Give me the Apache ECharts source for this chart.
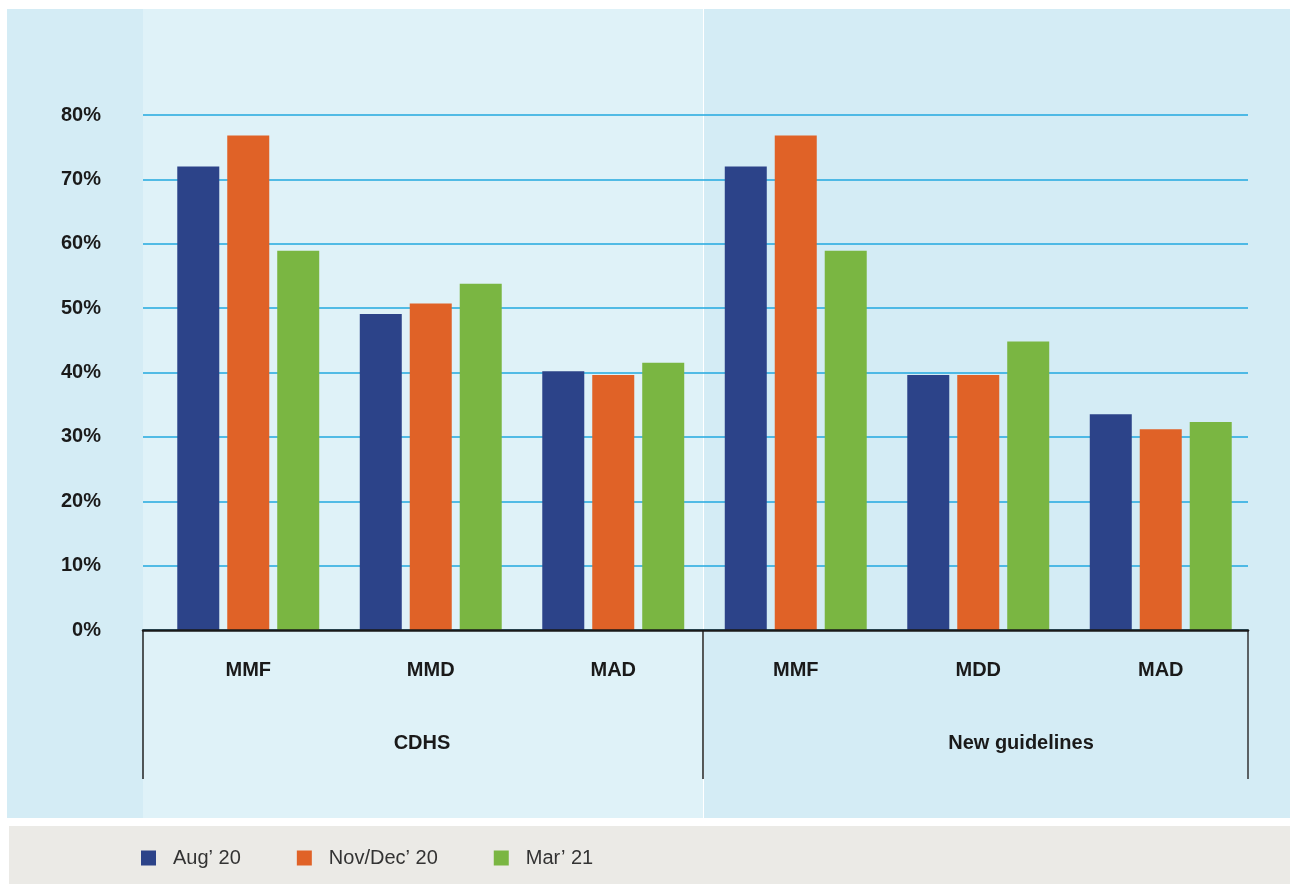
<!DOCTYPE html>
<html>
<head>
<meta charset="utf-8">
<script src="https://cdn.jsdelivr.net/npm/echarts@6/dist/echarts.min.js"></script>
<style>
html,body{margin:0;padding:0;background:#ffffff;}
#chart{width:1290px;height:884px;}
</style>
</head>
<body>
<div id="chart"></div>
<script>
var categories = ['MMF', 'MMD', 'MAD', 'MMF', 'MDD', 'MAD'];
var groupLabels = ['CDHS', 'New guidelines'];
var seriesNames = ['Aug\u2019 20', 'Nov/Dec\u2019 20', 'Mar\u2019 21'];
var aug20 = [72, 49.1, 40.2, 72, 39.6, 33.5];
var novDec20 = [76.8, 50.7, 39.6, 76.8, 39.6, 31.2];
var mar21 = [58.9, 53.8, 41.5, 58.9, 44.8, 32.3];
var yTicks = [0, 10, 20, 30, 40, 50, 60, 70, 80];

var colors = ['#2c4389', '#e06227', '#7ab642'];
var font = '"Liberation Sans", Arial, sans-serif';

var chart = echarts.init(document.getElementById('chart'), null, {renderer: 'canvas'});

function bar(name, data, color) {
  return {
    name: name, type: 'bar', xAxisIndex: 1, yAxisIndex: 1,
    data: data, barWidth: 42, barGap: '19%',
    itemStyle: {color: color}
  };
}

var option = {
  animation: false,
  color: colors,
  graphic: [
    {type: 'rect', z: -10, shape: {x: 7, y: 9, width: 1283, height: 809}, style: {fill: '#d4ecf5'}},
    {type: 'rect', z: -9, shape: {x: 143, y: 9, width: 560, height: 809}, style: {fill: '#dff2f8'}},
    {type: 'rect', z: -9, shape: {x: 703, y: 9, width: 1, height: 809}, style: {fill: '#ffffff'}},
    {type: 'rect', z: -10, shape: {x: 9, y: 826, width: 1281, height: 58}, style: {fill: '#ebeae6'}},
    {type: 'line', z: 5, shape: {x1: 143, y1: 630, x2: 143, y2: 779}, style: {stroke: '#222', lineWidth: 1.5}},
    {type: 'line', z: 5, shape: {x1: 703, y1: 630, x2: 703, y2: 779}, style: {stroke: '#222', lineWidth: 1.5}},
    {type: 'line', z: 5, shape: {x1: 1248, y1: 630, x2: 1248, y2: 779}, style: {stroke: '#333', lineWidth: 1.5}},
    {type: 'text', z: 5, style: {text: groupLabels[0], x: 422, y: 743, textAlign: 'center', textVerticalAlign: 'middle', font: 'bold 20px ' + font, fill: '#1a1a1a'}},
    {type: 'text', z: 5, style: {text: groupLabels[1], x: 1021, y: 743, textAlign: 'center', textVerticalAlign: 'middle', font: 'bold 20px ' + font, fill: '#1a1a1a'}}
  ],
  legend: {
    left: 141, top: 848, padding: 0,
    itemWidth: 15, itemHeight: 15, itemGap: 56,
    icon: 'rect',
    data: seriesNames,
    textStyle: {fontFamily: font, fontSize: 20, color: '#333', padding: [0, 0, 0, 12]}
  },
  grid: [
    {left: 143, top: 115, width: 1105, height: 515},
    {left: 157, top: 115, width: 1095, height: 515}
  ],
  xAxis: [
    {gridIndex: 0, type: 'value', min: 0, max: 1, z: 10,
     axisLine: {show: true, lineStyle: {color: '#1a1a1a', width: 2.5}},
     axisTick: {show: false}, axisLabel: {show: false}, splitLine: {show: false}},
    {gridIndex: 1, type: 'category', data: categories,
     axisLine: {show: false}, axisTick: {show: false},
     axisLabel: {margin: 30, fontFamily: font, fontSize: 20, fontWeight: 'bold', color: '#1a1a1a'}}
  ],
  yAxis: [
    {gridIndex: 0, type: 'value', min: yTicks[0], max: yTicks[yTicks.length - 1], interval: 10,
     axisLine: {show: false}, axisTick: {show: false},
     axisLabel: {margin: 42, fontFamily: font, fontSize: 20, fontWeight: 'bold', color: '#1a1a1a',
       formatter: function (v) { return v + '%'; }},
     splitLine: {show: true, lineStyle: {color: '#22a9df', width: 1.5}}},
    {gridIndex: 1, type: 'value', min: yTicks[0], max: yTicks[yTicks.length - 1], interval: 10,
     show: false, splitLine: {show: false}}
  ],
  series: [
    bar(seriesNames[0], aug20, colors[0]),
    bar(seriesNames[1], novDec20, colors[1]),
    bar(seriesNames[2], mar21, colors[2])
  ]
};
chart.setOption(option);
</script>
</body>
</html>
